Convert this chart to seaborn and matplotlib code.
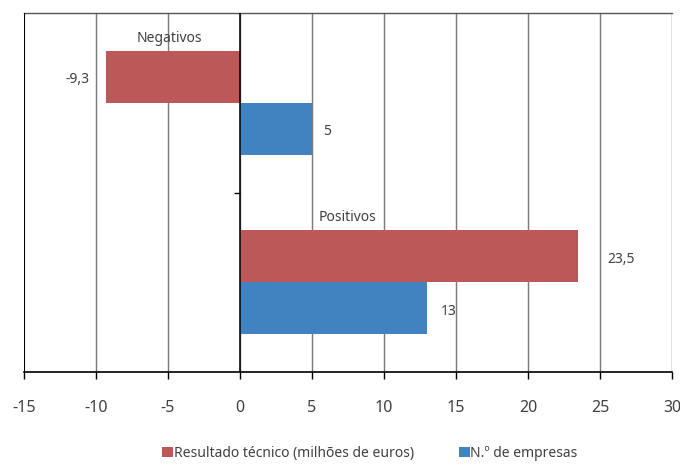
import matplotlib
matplotlib.use("Agg")
import matplotlib.pyplot as plt
import seaborn as sns
import pandas as pd

categories = ["Negativos", "Positivos"]
series = ["Resultado técnico (milhões de euros)", "N.º de empresas"]
resultado = [-9.3, 23.5]
empresas = [5, 13]
xticks = [-15, -10, -5, 0, 5, 10, 15, 20, 25, 30]

colors = ["#BC5858", "#4183C0"]
txt = "#404040"

sns.set_theme(style="white")
plt.rcParams["font.family"] = ["Noto Sans", "DejaVu Sans"]

df = pd.DataFrame({
    "cat": categories * 2,
    "serie": [series[0]] * 2 + [series[1]] * 2,
    "val": resultado + empresas,
})

fig = plt.figure(figsize=(6.8, 4.71), dpi=100)
ax = fig.add_axes([24 / 680, 1 - 372 / 471, (672 - 24) / 680, (372 - 13) / 471])

sns.barplot(data=df, x="val", y="cat", hue="serie", order=categories,
            hue_order=series, palette=colors, width=0.58, orient="h",
            ax=ax, legend=True, saturation=1, edgecolor="none")

ax.set_xlim(-15, 30)
ax.set_ylim(1.5, -0.5)
ax.set_xticks(xticks)
ax.set_xticklabels([str(t) for t in xticks], color=txt, fontsize=11.5)
ax.set_xlabel("")
ax.set_ylabel("")
for t in xticks[1:]:
    ax.axvline(t, color="#7a7a7a", lw=1, zorder=0)
ax.axvline(-15, color="black", lw=1.5, zorder=3)
ax.axvline(0, color="black", lw=1.1, zorder=3)

ax.spines["left"].set_position(("data", 0))
ax.spines["left"].set_visible(False)
ax.spines["top"].set_color("#555555")
ax.spines["top"].set_linewidth(1)
ax.spines["right"].set_visible(False)
ax.spines["bottom"].set_color("black")
ax.spines["bottom"].set_linewidth(1.2)

ax.set_yticks([0.5])
ax.set_yticklabels([""])
ax.tick_params(axis="y", direction="out", length=4, width=1, color="black", left=True)
ax.tick_params(axis="x", direction="out", length=5, width=1, color="black",
               bottom=True, pad=15.5)

# value labels (offsets in points, per series / category)
pads = [[-12, 21], [8, 10]]
for ci, cont in enumerate(ax.containers):
    vals = [resultado, empresas][ci]
    for bi, (bar, v) in enumerate(zip(cont, vals)):
        end = bar.get_x() + bar.get_width()
        yc = bar.get_y() + bar.get_height() / 2
        lab = f"{v:g}".replace(".", ",")
        ha = "left" if v >= 0 else "right"
        ax.annotate(lab, xy=(end, yc), xytext=(pads[ci][bi], -2),
                    textcoords="offset points",
                    ha=ha, va="center", fontsize=10, color=txt)

# category labels
cat_x = [-4.9, 7.5]
for i, (c, x) in enumerate(zip(categories, cat_x)):
    ax.text(x, i - 0.36, c, ha="center", va="center", fontsize=10, color=txt)

handles, labels = ax.get_legend_handles_labels()
ax.get_legend().remove()
fig.legend(handles, labels, loc="lower center", bbox_to_anchor=(370 / 680, -0.005),
           ncol=2, frameon=False, fontsize=10, handlelength=0.8, handleheight=0.8,
           handletextpad=0.05, columnspacing=3.2, labelcolor=txt)

fig.savefig("out.png", dpi=100)
